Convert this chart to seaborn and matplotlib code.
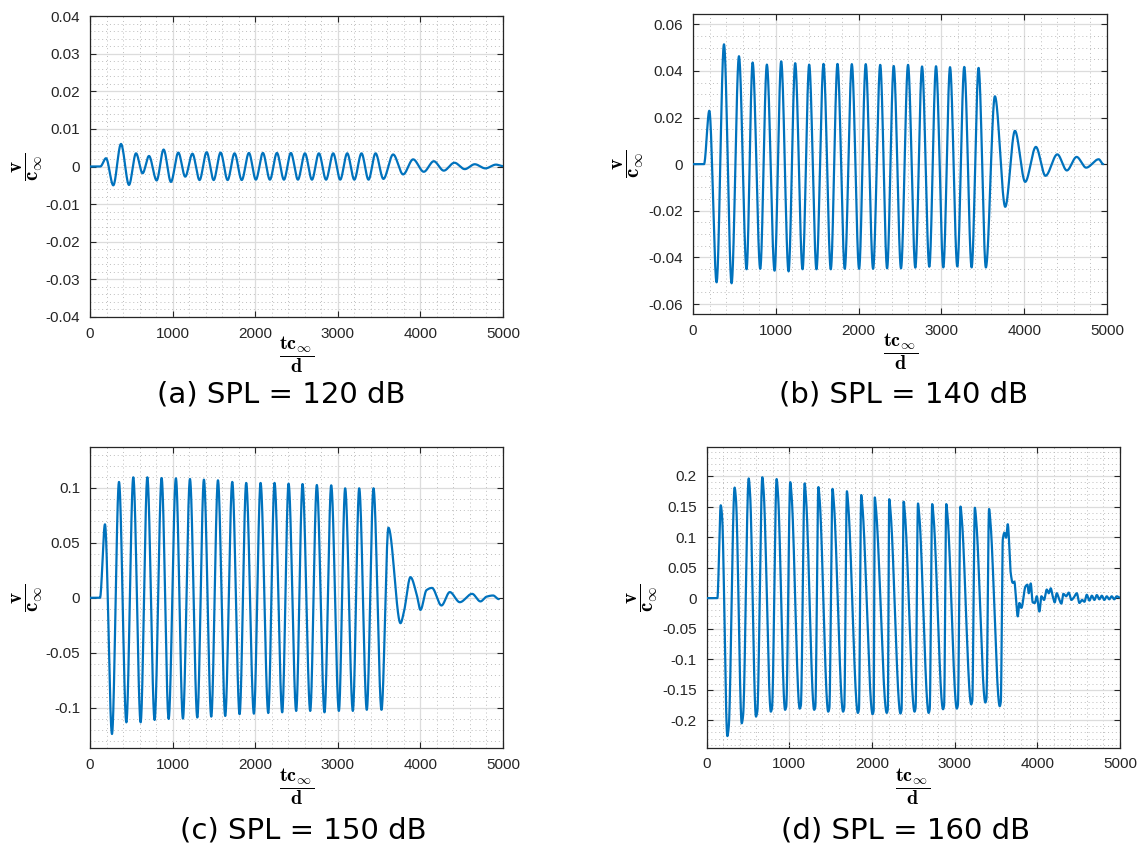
import numpy as np
import pandas as pd
import matplotlib
matplotlib.use("Agg")
import matplotlib.pyplot as plt
from matplotlib.ticker import MultipleLocator, FixedLocator, FixedFormatter
import seaborn as sns

# ---------------------------------------------------------------------------
# Transverse velocity v/c_inf at the probe versus non-dimensional time,
# for four incident sound pressure levels.  Each series is given by its
# turning points (time, value); the curve is drawn through them with a
# shape-preserving cubic (PCHIP) so no overshoot is introduced.
# ---------------------------------------------------------------------------

# (a) SPL = 120 dB
t_120 = [0, 125, 194, 282, 375, 472, 557, 637, 714, 807, 891, 980,
         1069, 1153, 1240, 1326, 1412, 1497, 1581, 1666, 1750, 1837,
         1924, 2008, 2093, 2178, 2263, 2348, 2432, 2517, 2602, 2687,
         2771, 2858, 2944, 3029, 3114, 3200, 3287, 3372, 3457, 3552,
         3670, 3791, 3912, 4041, 4162, 4283, 4412, 4537, 4658, 4787,
         4915, 5000]
v_120 = [0, 0, .0022, -.0050, .0060, -.0049, .0035, -.0018, .0028, -.0037, .0045, -.0041,
         .0037, -.0027, .0034, -.0036, .0038, -.0036, .0037, -.0036, .0035, -.0036,
         .0036, -.0035, .0036, -.0035, .0036, -.0035, .0036, -.0035, .0035, -.0035,
         .0035, -.0035, .0035, -.0035, .0035, -.0035, .0035, -.0035, .0035, -.0033,
         .0032, -.0021, .0019, -.0014, .0014, -.0011, .0010, -.0007, .0006, -.0005,
         .0005, .0001]

# (b) SPL = 140 dB
t_140 = [0, 133, 197, 285, 374, 466, 555, 647, 720, 812, 892, 985,
         1065, 1154, 1234, 1323, 1403, 1491, 1576, 1664, 1745, 1833,
         1918, 2006, 2086, 2175, 2261, 2344, 2424, 2512, 2597, 2685,
         2766, 2854, 2935, 3023, 3104, 3192, 3276, 3365, 3449, 3537,
         3646, 3771, 3888, 4012, 4141, 4257, 4400, 4515, 4633, 4748,
         4900, 4955]
v_140 = [0, 0, .0229, -.0507, .0514, -.0511, .0463, -.0451, .0436, -.0449, .0427, -.0457,
         .0441, -.0460, .0433, -.0451, .0427, -.0451, .0430, -.0451, .0430, -.0449,
         .0429, -.0449, .0429, -.0449, .0426, -.0447, .0421, -.0447, .0426, -.0444,
         .0419, -.0440, .0420, -.0443, .0416, -.0439, .0417, -.0443, .0413, -.0443,
         .0291, -.0183, .0143, -.0076, .0074, -.0050, .0042, -.0027, .0031, -.0015,
         .0021, 0.0]

# (c) SPL = 150 dB
t_150 = [0, 121, 181, 266, 351, 440, 524, 613, 694, 782, 867, 952,
         1040, 1125, 1210, 1299, 1379, 1468, 1549, 1637, 1722, 1811,
         1891, 1984, 2065, 2158, 2234, 2327, 2404, 2496, 2573, 2666,
         2746, 2839, 2920, 3013, 3089, 3182, 3259, 3351, 3432, 3529,
         3613, 3759, 3800, 3880, 3952, 4001, 4074, 4140, 4255, 4356,
         4477, 4626, 4727, 4800, 4880, 4949]
v_150 = [0, 0, .0669, -.1240, .1055, -.1134, .1097, -.1134, .1097, -.1112, .1091, -.1103,
         .1088, -.1100, .1082, -.1090, .1076, -.1082, .1070, -.1076, .1055, -.1060,
         .1046, -.1055, .1046, -.1049, .1046, -.1043, .1040, -.1030, .1036, -.1030,
         .1027, -.1043, .1024, -.1030, .0997, -.1030, .0997, -.1020, .0997, -.1020,
         .0638, -.0231, -.0130, .0188, .0040, -.0110, .0070, .0090, -.0070, .0052,
         -.0040, .0036, -.0033, .0010, .0021, -.0012]

# (d) SPL = 160 dB  (peak, post-peak shoulder, trough, trough exit per cycle)
t_160 = [0, 129,
         170, 186, 250, 266,
         338, 354, 424, 440,
         508, 524, 596, 612,
         673, 689, 776, 790,
         846, 862, 948, 962,
         1011, 1027, 1125, 1139,
         1185, 1201, 1300, 1314,
         1351, 1367, 1470, 1484,
         1522, 1538, 1650, 1664,
         1696, 1712, 1829, 1842,
         1869, 1885, 2007, 2020,
         2033, 2049, 2178, 2191,
         2208, 2224, 2344, 2357,
         2382, 2398, 2514, 2527,
         2556, 2572, 2685, 2698,
         2728, 2744, 2859, 2872,
         2898, 2914, 3026, 3039,
         3070, 3086, 3200, 3213,
         3244, 3260, 3371, 3384,
         3416, 3432, 3545, 3558,
         3582, 3602, 3622, 3642, 3678, 3702, 3722, 3743, 3763, 3783,
         3807, 3856, 3880, 3896, 3920, 3944, 3969, 3993, 4025, 4049,
         4081, 4114, 4138, 4162, 4186, 4210, 4235, 4259, 4291, 4315,
         4348, 4380, 4412, 4436, 4477, 4509, 4541, 4570, 4598, 4630,
         4660, 4690, 4720, 4750, 4780, 4810, 4840, 4870, 4900, 4930,
         4960, 4995]
v_160 = [0, 0,
         .152, .134, -.226, -.212,
         .181, .162, -.205, -.193,
         .196, .173, -.194, -.186,
         .198, .175, -.186, -.180,
         .195, .172, -.183, -.178,
         .190, .168, -.181, -.176,
         .188, .165, -.183, -.178,
         .182, .160, -.186, -.180,
         .179, .157, -.186, -.180,
         .175, .153, -.188, -.182,
         .169, .148, -.190, -.184,
         .165, .145, -.188, -.182,
         .162, .142, -.189, -.183,
         .158, .138, -.186, -.180,
         .155, .135, -.188, -.182,
         .154, .134, -.182, -.176,
         .154, .134, -.181, -.175,
         .150, .130, -.174, -.168,
         .148, .128, -.171, -.165,
         .146, .126, -.177, -.170,
         .096, .107, .099, .121, .041, .025, .027, -.003, -.030, -.008,
         -.016, .019, .022, .008, .024, -.007, -.008, .003, -.022, .003,
         -.003, .014, .008, .016, .003, -.007, .008, .000, -.009, .007,
         .003, .009, -.003, .000, .008, -.008, -.003, -.006, .0055, -.004,
         .004, -.003, .005, -.002, .004, -.003, .003, -.002, .003, -.002,
         .003, .001]

captions = ["(a) SPL = 120 dB", "(b) SPL = 140 dB",
            "(c) SPL = 150 dB", "(d) SPL = 160 dB"]
series = [(t_120, v_120), (t_140, v_140), (t_150, v_150), (t_160, v_160)]
y_limits = [(-0.04, 0.04), (-0.0644, 0.0644), (-0.137, 0.137), (-0.245, 0.247)]
y_major = [0.01, 0.02, 0.05, 0.05]
y_minor = [0.002, 0.005, 0.01, 0.01]
x_ticks = [0, 1000, 2000, 3000, 4000, 5000]


def pchip_curve(tk, vk, step=2.0):
    """Monotone piecewise cubic Hermite curve through the turning points."""
    x = np.asarray(tk, float)
    y = np.asarray(vk, float)
    assert len(x) == len(y)
    h = np.diff(x)
    d = np.diff(y) / h
    m = np.zeros_like(y)
    for k in range(1, len(x) - 1):
        if d[k - 1] * d[k] > 0:
            w1 = 2 * h[k] + h[k - 1]
            w2 = h[k] + 2 * h[k - 1]
            m[k] = (w1 + w2) / (w1 / d[k - 1] + w2 / d[k])
    xq = np.append(np.arange(x[0], x[-1], step), x[-1])
    i = np.clip(np.searchsorted(x, xq, side="right") - 1, 0, len(x) - 2)
    s = (xq - x[i]) / h[i]
    h00 = 2 * s**3 - 3 * s**2 + 1
    h10 = s**3 - 2 * s**2 + s
    h01 = -2 * s**3 + 3 * s**2
    h11 = s**3 - s**2
    yq = h00 * y[i] + h10 * h[i] * m[i] + h01 * y[i + 1] + h11 * h[i] * m[i + 1]
    return xq, yq


def fmt(v):
    v = round(v, 6) + 0.0
    return "%g" % v


sns.set_theme(style="white")
plt.rcParams["font.family"] = ["Liberation Sans", "DejaVu Sans"]
plt.rcParams["mathtext.fontset"] = "cm"

W, H = 1138, 850
fig = plt.figure(figsize=(W / 100, H / 100), dpi=100)
fig.patch.set_facecolor("white")

# axes boxes in pixels: left, top, right, bottom
boxes = [(90, 16, 503, 317), (693, 14, 1107, 314.3),
         (90, 447.3, 503, 748.3), (706.7, 447.3, 1120, 747.7)]
ylabel_pos = [(27.5, 167), (629, 164), (27.5, 598), (643, 598)]
xlabel_pos = [(297, 355), (901, 352), (297, 787), (913, 787)]
caption_pos = [(281, 394), (904, 394), (303, 830), (906, 830)]

line_color = "#0072BD"
spine_color = "#262626"

for k, (tk, vk) in enumerate(series):
    l, t, r, b = boxes[k]
    ax = fig.add_axes([l / W, 1 - b / H, (r - l) / W, (b - t) / H])
    tq, vq = pchip_curve(tk, vk)
    df = pd.DataFrame({"t": tq, "v": vq})
    sns.lineplot(data=df, x="t", y="v", ax=ax, color=line_color, lw=1.6,
                 estimator=None, sort=False, zorder=3)

    ax.set_xlim(0, 5000)
    ax.set_ylim(*y_limits[k])
    ax.set_xlabel("")
    ax.set_ylabel("")

    ax.xaxis.set_major_locator(FixedLocator(x_ticks))
    ax.xaxis.set_major_formatter(FixedFormatter([str(x) for x in x_ticks]))
    ax.xaxis.set_minor_locator(MultipleLocator(200))
    lo, hi = y_limits[k]
    step = y_major[k]
    yt = np.arange(np.ceil(lo / step - 1e-9), np.floor(hi / step + 1e-9) + 1) * step
    ax.yaxis.set_major_locator(FixedLocator(yt))
    ax.yaxis.set_major_formatter(FixedFormatter([fmt(v) for v in yt]))
    ax.yaxis.set_minor_locator(MultipleLocator(y_minor[k]))

    ax.set_axisbelow(True)
    ax.grid(which="major", color="#dcdcdc", lw=0.9, ls="-")
    ax.grid(which="minor", color="#bdbdbd", lw=0.7, ls=(0, (1, 3)))

    ax.tick_params(which="major", direction="in", length=4, width=0.8,
                   top=True, right=True, bottom=True, left=True,
                   color=spine_color, labelcolor=spine_color, labelsize=11, pad=7)
    ax.tick_params(which="minor", length=0)
    for sp in ax.spines.values():
        sp.set_visible(True)
        sp.set_color(spine_color)
        sp.set_linewidth(0.9)

    yx, yy = ylabel_pos[k]
    fig.text(yx / W, 1 - yy / H, r"$\mathbf{\dfrac{v}{c_{\infty}}}$",
             rotation=90, ha="center", va="center", fontsize=15, color="black")
    xx, xy = xlabel_pos[k]
    fig.text(xx / W, 1 - xy / H, r"$\mathbf{\dfrac{tc_{\infty}}{d}}$",
             ha="center", va="center", fontsize=14.5, color="black")
    cx, cy = caption_pos[k]
    fig.text(cx / W, 1 - cy / H, captions[k], ha="center", va="center",
             fontsize=21, family="DejaVu Sans", color="black")

fig.savefig("out.png", dpi=100, facecolor="white")
